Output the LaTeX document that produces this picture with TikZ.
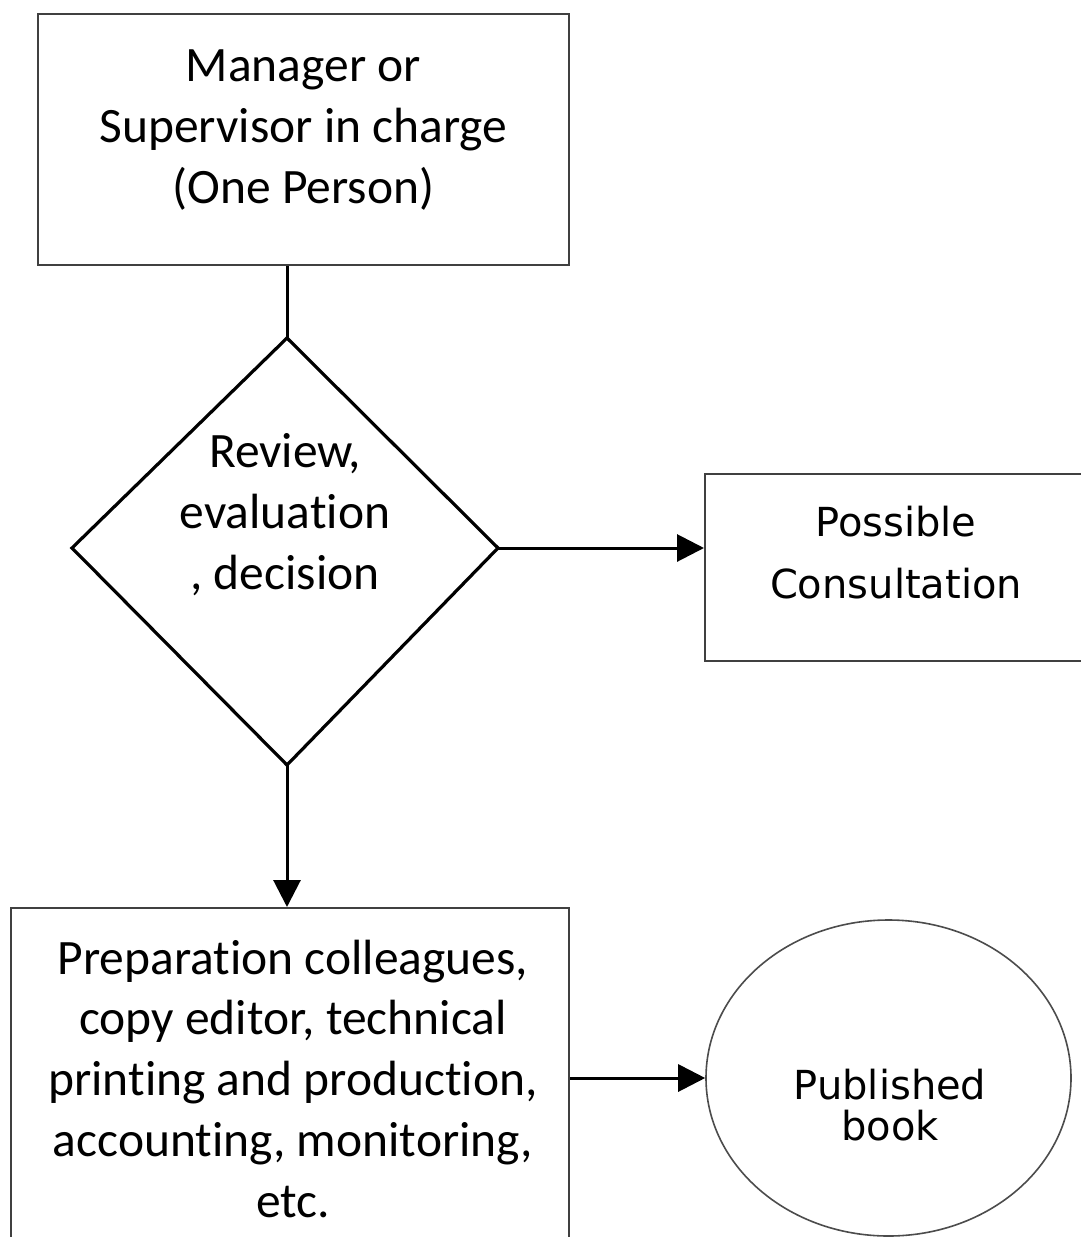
\documentclass[tikz,border=0pt]{standalone}
\usepackage{fontspec}
\setmainfont{Carlito}[Ligatures=NoCommon]
\newfontfamily\tahomalike{DejaVu Sans}
\usetikzlibrary{arrows.meta,shapes.geometric}
\tikzset{
  boxshape/.style={draw=black!75, line width=2pt, rectangle, inner sep=0pt},
  decshape/.style={draw=black, line width=3.2pt, line join=miter},
  endshape/.style={draw=black!70, line width=1.6pt, ellipse, inner sep=0pt},
  cal/.style={align=center, inner sep=0pt, font=\fontsize{49.5}{61}\selectfont},
  tah/.style={align=center, inner sep=0pt},
  conn/.style={draw=black, line width=3pt},
  arr/.style={conn, -{Triangle[length=27pt,width=27pt]}},
}
\begin{document}
\begin{tikzpicture}[x=1pt,y=-1pt]
\useasboundingbox (0,0) rectangle (1080,1237);
\fill[white] (0,0) rectangle (1080,1237);
% shapes
\node[boxshape, minimum width=531pt, minimum height=251pt] (mgr) at (303.5,139.5) {};
\coordinate (dtop) at (287,338);
\coordinate (dleft) at (72,548);
\coordinate (dright) at (498,548);
\coordinate (dbot) at (287,765);
\draw[decshape] (dtop) -- (dright) -- (dbot) -- (dleft) -- cycle;
\node[boxshape, minimum width=390pt, minimum height=187pt] (cons) at (900,567.5) {};
\node[boxshape, minimum width=558pt, minimum height=360pt] (prep) at (290,1088) {};
\node[endshape, minimum width=365pt, minimum height=316pt] (book) at (888.5,1078) {};
% texts
\node[cal] (mgrtxt) at (303.5,130) {Manager or\\Supervisor in charge\\(One Person)};
\node[cal] (dectxt) at (285,515) {Review,\\evaluation\\, decision};
\node[tah, font=\tahomalike\fontsize{40}{62}\selectfont] (constxt) at (896,553) {Possible\\Consultation};
\node[cal, font=\fontsize{49.5}{60.75}\selectfont] (preptxt) at (293,1078.5) {Preparation colleagues,\\copy editor, technical\\printing and production,\\accounting, monitoring,\\etc.};
\node[tah, font=\tahomalike\fontsize{40}{41}\selectfont] (booktxt) at (890,1105.5) {Published\\book};
% connectors
\coordinate (mgrbot) at (mgr.south -| dtop);
\draw[conn] (mgrbot) -- (dtop);
\draw[arr] (dright) -- (dright -| cons.west);
\draw[arr] (dbot) -- (dbot |- prep.north);
\coordinate (prepout) at (prep.east |- book.west);
\draw[arr] (prepout) -- (book.west);
\end{tikzpicture}
\end{document}
